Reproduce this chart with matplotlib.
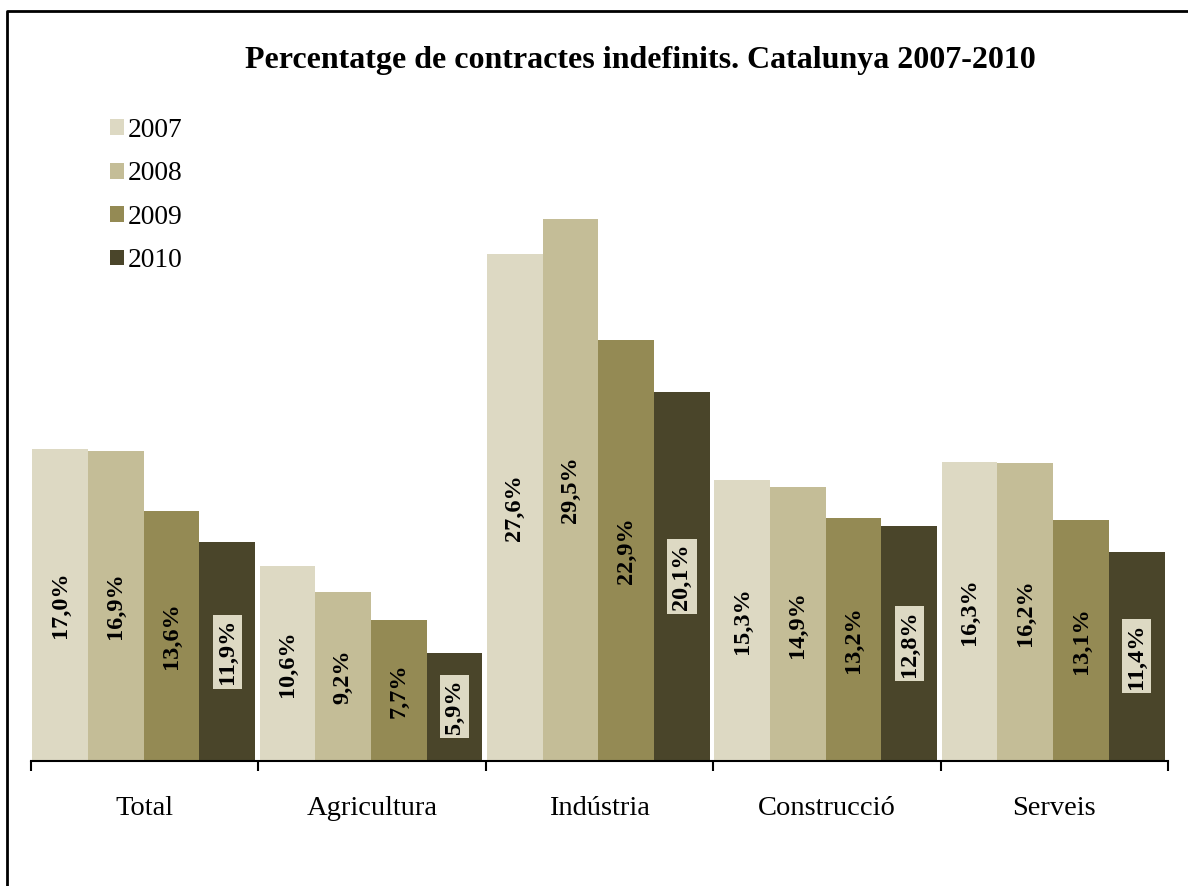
import matplotlib
matplotlib.use('Agg')
import matplotlib.pyplot as plt
from matplotlib.patches import Patch
from matplotlib.lines import Line2D
import numpy as np

# sectors / categories
sectors = ['Total', 'Agricultura', 'Indústria', 'Construcció', 'Serveis']
years = ['2007', '2008', '2009', '2010']
# percentatge de contractes indefinits
v2007 = [17.0, 10.6, 27.6, 15.3, 16.3]
v2008 = [16.9, 9.2, 29.5, 14.9, 16.2]
v2009 = [13.6, 7.7, 22.9, 13.2, 13.1]
v2010 = [11.9, 5.9, 20.1, 12.8, 11.4]
colors = ['#DDD9C3', '#C4BD97', '#948A54', '#4A452A']

plt.rcParams['font.family'] = ['Liberation Serif', 'DejaVu Serif']

W, H = 1188, 886
fig = plt.figure(figsize=(W / 100, H / 100), dpi=100)
ax = fig.add_axes([31 / W, 1 - 761 / H, (1168 - 31) / W, (761 - 118) / H])

x = np.arange(len(sectors))
bw = 0.245
series = [v2007, v2008, v2009, v2010]
for k, vals in enumerate(series):
    left = x - 0.495 + k * bw
    ax.bar(left, vals, width=bw, align='edge', color=colors[k], linewidth=0)
    for xi, v in zip(left, vals):
        txt = ('%.1f%%' % v).replace('.', ',')
        kw = {}
        if k == 3:
            kw['bbox'] = dict(facecolor=colors[0], edgecolor='none', pad=3)
        ax.text(xi + bw / 2, v / 2, txt, rotation=90, ha='center', va='center',
                fontsize=17.5, fontweight='bold', color='black', **kw)

ax.set_xlim(-0.5, 4.5)
ax.set_ylim(0, 35)
for s in ['left', 'right', 'top']:
    ax.spines[s].set_visible(False)
ax.spines['bottom'].set_linewidth(1.5)
ax.set_yticks([])
ax.set_xticks(np.arange(-0.5, 5, 1))
ax.set_xticklabels([])
ax.tick_params(axis='x', which='major', length=7, width=1.5, direction='out')
ax.set_xticks(x, minor=True)
ax.set_xticklabels(sectors, minor=True, fontsize=20.5)
ax.tick_params(axis='x', which='minor', length=0, pad=25)

handles = [Patch(facecolor=c, edgecolor='none') for c in colors]
fig.legend(handles, years, loc='upper left', bbox_to_anchor=(110 / W, 1 - 118 / H),
           frameon=False, fontsize=19.8, handlelength=0.51, handleheight=0.51,
           handletextpad=0.15, labelspacing=0.67, borderpad=0, borderaxespad=0)

fig.text(640 / W, 1 - 68 / H, 'Percentatge de contractes indefinits. Catalunya 2007-2010',
         ha='center', va='baseline', fontsize=23, fontweight='bold')

# marc del gràfic
fig.add_artist(Line2D([6.7 / W, 6.7 / W, 1.01], [-0.01, 1 - 10.7 / H, 1 - 10.7 / H],
                      transform=fig.transFigure, color='black', linewidth=2))

fig.savefig('out.png', dpi=100)
